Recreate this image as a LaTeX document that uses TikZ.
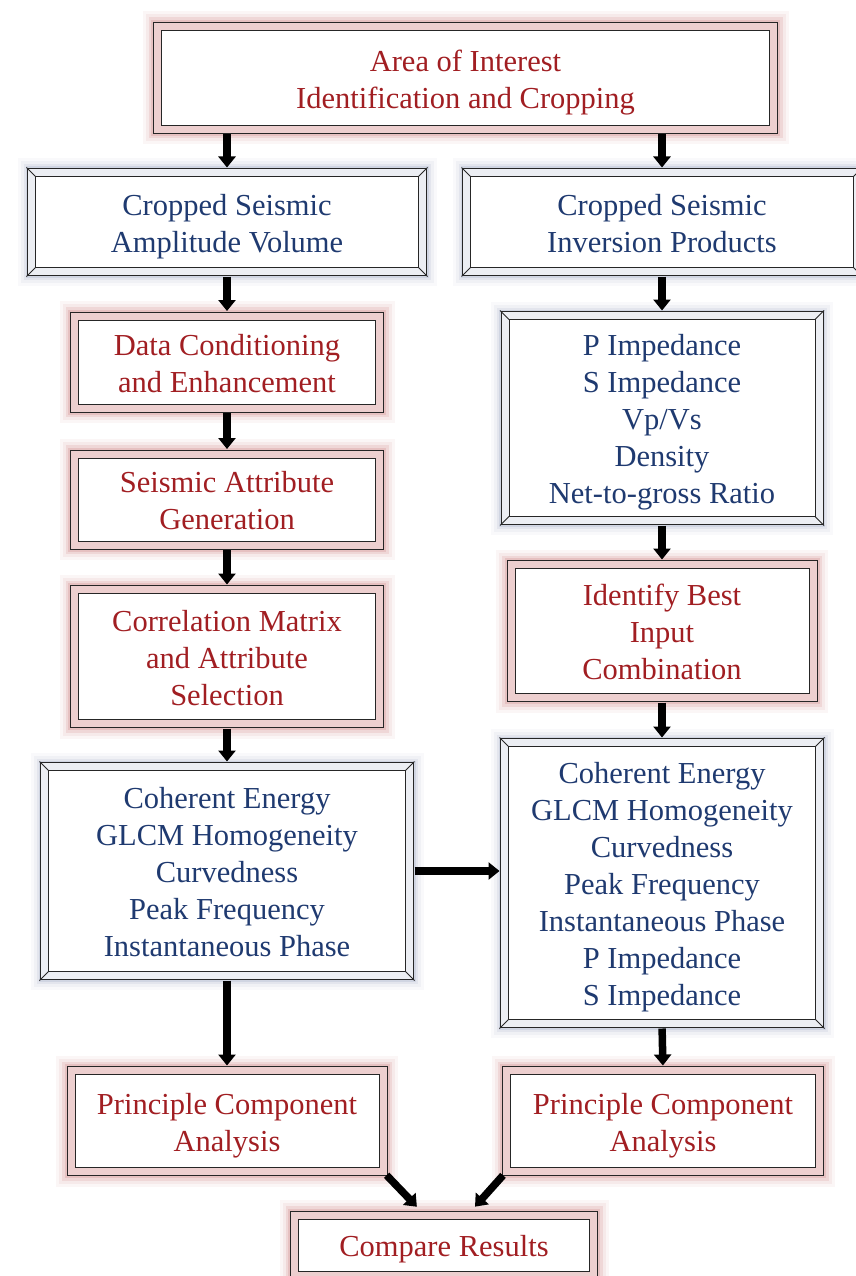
\documentclass[tikz,border=0pt]{standalone}
\usepackage{fontspec}
\setmainfont{Liberation Serif}
\usetikzlibrary{arrows.meta,calc,backgrounds}
\definecolor{tred}{HTML}{A11E22}
\definecolor{tblue}{HTML}{1F3A70}
\definecolor{bandR}{HTML}{EDCFCF}
\definecolor{bandB}{HTML}{ECEEF3}
\definecolor{glowR}{HTML}{D48F8F}
\definecolor{glowB}{HTML}{9AA6C2}
\newcommand\boxlines[1]{\begin{tabular}{@{}c@{}}\rule{0pt}{35pt}#1\end{tabular}}
\tikzset{
 box/.style={draw=black!85, line width=1pt, double distance=7pt, fill=white, inner sep=0pt, font=\fontsize{30.5}{37}\selectfont},
 redbox/.style={box, double=bandR, text=tred},
 bluebox/.style={box, double=bandB, text=tblue},
 arr/.style={line width=7.5pt, -{Triangle[width=17pt,length=11pt]}, shorten <=4.5pt, shorten >=4.5pt},
 bevel/.style={line width=0.8pt, draw=black!85},
}
\begin{document}
\begin{tikzpicture}[x=1pt,y=-1pt]
\useasboundingbox (0,0) rectangle (855,1276);
% red boxes
\node[redbox, minimum width=616pt, minimum height=103pt] (area) at (465.5,78) {\boxlines{Area of Interest\\Identification and Cropping}};
\node[redbox, minimum width=305pt, minimum height=92pt] (data) at (227,362) {\boxlines{Data Conditioning\\and Enhancement}};
\node[redbox, minimum width=305pt, minimum height=91pt] (attr) at (227,499.5) {\boxlines{Seismic Attribute\\Generation}};
\node[redbox, minimum width=305pt, minimum height=134pt] (corr) at (227,656.5) {\boxlines{Correlation Matrix\\and Attribute\\Selection}};
\node[redbox, minimum width=302pt, minimum height=133pt] (ident) at (662,631) {\boxlines{Identify Best\\Input\\Combination}};
\node[redbox, minimum width=312pt, minimum height=101pt] (pcaL) at (227,1121) {\boxlines{Principle Component\\Analysis}};
\node[redbox, minimum width=313pt, minimum height=101pt] (pcaR) at (663,1121) {\boxlines{Principle Component\\Analysis}};
\node[redbox, minimum width=299pt, minimum height=60pt] (compare) at (444,1245) {\boxlines{Compare Results}};
% blue boxes
\node[bluebox, minimum width=391pt, minimum height=99pt] (cropL) at (227,222) {\boxlines{Cropped Seismic\\Amplitude Volume}};
\node[bluebox, minimum width=391pt, minimum height=99pt] (cropR) at (662,222) {\boxlines{Cropped Seismic\\Inversion Products}};
\node[bluebox, minimum width=314pt, minimum height=205pt] (pimp) at (662,418) {\boxlines{P Impedance\\S Impedance\\Vp/Vs\\Density\\Net-to-gross Ratio}};
\node[bluebox, minimum width=365pt, minimum height=209pt] (cohL) at (227,871) {\boxlines{Coherent Energy\\GLCM Homogeneity\\Curvedness\\Peak Frequency\\Instantaneous Phase}};
\node[bluebox, minimum width=315pt, minimum height=281pt] (cohR) at (662,883) {\boxlines{Coherent Energy\\GLCM Homogeneity\\Curvedness\\Peak Frequency\\Instantaneous Phase\\P Impedance\\S Impedance}};
% bevel corners
\foreach \n in {cropL,cropR,pimp,cohL,cohR}{
 \draw[bevel] ($(\n.north west)+(-4.5,-4.5)$) -- ($(\n.north west)+(4.5,4.5)$);
 \draw[bevel] ($(\n.north east)+(4.5,-4.5)$) -- ($(\n.north east)+(-4.5,4.5)$);
 \draw[bevel] ($(\n.south west)+(-4.5,4.5)$) -- ($(\n.south west)+(4.5,-4.5)$);
 \draw[bevel] ($(\n.south east)+(4.5,4.5)$) -- ($(\n.south east)+(-4.5,-4.5)$);
}
% glows
\begin{scope}[on background layer]
\fill[white] (0,0) rectangle (855,1276);
\foreach \n in {area,data,attr,corr,ident,pcaL,pcaR,compare}{
 \draw[glowR, line width=29pt, opacity=0.08] (\n.north west) rectangle (\n.south east);
 \draw[glowR, line width=23pt, opacity=0.11] (\n.north west) rectangle (\n.south east);
 \draw[glowR, line width=17pt, opacity=0.2] (\n.north west) rectangle (\n.south east);
 \draw[glowR, line width=12pt, opacity=0.3] (\n.north west) rectangle (\n.south east);
}
\foreach \n in {cropL,cropR,pimp,cohL,cohR}{
 \draw[glowB, line width=27pt, opacity=0.06] (\n.north west) rectangle (\n.south east);
 \draw[glowB, line width=21pt, opacity=0.09] (\n.north west) rectangle (\n.south east);
 \draw[glowB, line width=15pt, opacity=0.15] (\n.north west) rectangle (\n.south east);
 \draw[glowB, line width=11pt, opacity=0.25] (\n.north west) rectangle (\n.south east);
}
\end{scope}
% arrows
\coordinate (aL) at (cropL.north |- area.south);
\coordinate (aR) at (cropR.north |- area.south);
\draw[arr] (aL) -- (cropL.north);
\draw[arr] (aR) -- (cropR.north);
\draw[arr] (cropL.south) -- (data.north);
\draw[arr] (data.south) -- (attr.north);
\draw[arr] (attr.south) -- (corr.north);
\draw[arr] (corr.south) -- (cohL.north);
\draw[arr] (cohL.south) -- (pcaL.north);
\draw[arr] (cropR.south) -- (pimp.north);
\draw[arr] (pimp.south) -- (ident.north);
\draw[arr] (ident.south) -- (cohR.north);
\draw[arr] (cohR.south) -- (pcaR.north);
\coordinate (hR) at (cohL.east -| cohR.west);
\draw[arr] (cohL.east) -- (hR);
\coordinate (cmpL) at ($(compare.north)+(-24,-4.5)$);
\coordinate (cmpR) at ($(compare.north)+(28,-4.5)$);
\draw[arr] (pcaL.south east) -- (cmpL);
\draw[arr] (pcaR.south west) -- (cmpR);
\end{tikzpicture}
\end{document}
